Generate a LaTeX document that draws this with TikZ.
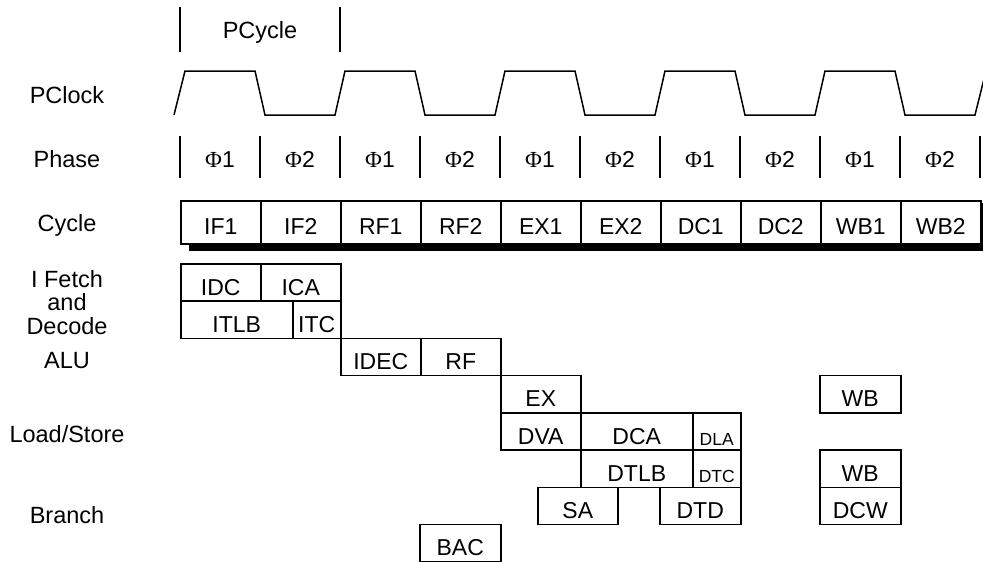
\documentclass[tikz,border=0pt]{standalone}
\usepackage{fontspec}
\setmainfont{Liberation Sans}
\newfontfamily\phifont{Liberation Serif}
\begin{document}
\begin{tikzpicture}[x=1pt,y=-1pt,
  lbl/.style={font=\fontsize{23.5}{26}\selectfont, anchor=base, inner sep=0},
  box/.style={draw, line width=1.5pt, inner sep=0, anchor=north west, font=\fontsize{23}{26}\selectfont},
  lowbox/.style={box, text height=31.25pt, text depth=6pt},
  smallbox/.style={box, font=\fontsize{17.5}{20}\selectfont, text height=32.25pt, text depth=5pt},
  cycbox/.style={box, fill=white, minimum width=80pt, text height=33.5pt, text depth=9.5pt},
  phlbl/.style={font=\fontsize{23}{26}\selectfont, anchor=base, inner sep=0},
  wave/.style={line width=1.5pt, line join=miter}
]
\useasboundingbox (0,0) rectangle (983,562);

% PCycle
\draw[wave] (180,7) -- (180,52);
\draw[wave] (340,7) -- (340,52);
\node[lbl] (pcycle) at (260,38) {PCycle};

% left labels
\node[lbl] (lclock) at (67,103) {PClock};
\node[lbl] (lphase) at (67,167) {Phase};
\node[lbl] (lcycle) at (67,231) {Cycle};
\node[lbl] (lif1) at (67,287) {I Fetch};
\node[lbl] (lif2) at (67,310.5) {and};
\node[lbl] (lif3) at (67,334) {Decode};
\node[lbl] (lalu) at (67,368) {ALU};
\node[lbl] (lls) at (67,442) {Load/Store};
\node[lbl] (lbr) at (67,523) {Branch};

% clock
\draw[wave] (174,115)--(185,71)--(255,71)--(265,115)--(335,115)--(345,71)--(415,71)--(425,115)--(495,115)--(505,71)--(575,71)--(585,115)--(655,115)--(665,71)--(735,71)--(745,115)--(815,115)--(825,71)--(895,71)--(905,115)--(975,115)--(986,71);

% phase
\foreach \x in {180,260,...,980} \draw[wave] (\x,136) -- (\x,178);
\foreach \i/\x/\t in {1/220/1,2/300/2,3/380/1,4/460/2,5/540/1,6/620/2,7/700/1,8/780/2,9/860/1,10/940/2}
  \node[phlbl] (ph\i) at (\x,167) {{\phifont Φ}\t};

% cycle row with shadow
\fill (189,203) rectangle (990,251);
\foreach \i/\x/\t in {1/180/IF1,2/260/IF2,3/340/RF1,4/420/RF2,5/500/EX1,6/580/EX2,7/660/DC1,8/740/DC2,9/820/WB1,10/900/WB2}
  \node[cycbox] (cy\i) at (\x,200) {\t};

% I fetch and decode
\node[lowbox, minimum width=80pt] (idc) at (180,263) {IDC};
\node[lowbox, minimum width=80pt] (ica) at (260,263) {ICA};
\node[lowbox, minimum width=112pt] (itlb) at (180,300.25) {ITLB};
\node[lowbox, minimum width=48pt] (itc) at (292,300.25) {ITC};
% ALU
\node[lowbox, minimum width=80pt] (idec) at (340,337.5) {IDEC};
\node[lowbox, minimum width=80pt] (rf) at (420,337.5) {RF};
\node[lowbox, minimum width=80pt] (ex) at (500,374.75) {EX};
\node[lowbox, minimum width=81pt] (wba) at (819,374.75) {WB};
% Load/Store
\node[lowbox, minimum width=80pt] (dva) at (500,412) {DVA};
\node[lowbox, minimum width=112pt] (dca) at (580,412) {DCA};
\node[smallbox, minimum width=48pt] (dla) at (692,412) {DLA};
\node[lowbox, minimum width=112pt] (dtlb) at (580,449.25) {DTLB};
\node[smallbox, minimum width=48pt] (dtc) at (692,449.25) {DTC};
\node[lowbox, minimum width=81pt] (wbb) at (819,449.25) {WB};
% Branch
\node[lowbox, minimum width=80pt] (sa) at (537,486.5) {SA};
\node[lowbox, minimum width=81pt] (dtd) at (659,486.5) {DTD};
\node[lowbox, minimum width=81pt] (dcw) at (819,486.5) {DCW};
\node[lowbox, minimum width=81pt] (bac) at (419,523.75) {BAC};
\end{tikzpicture}
\end{document}
